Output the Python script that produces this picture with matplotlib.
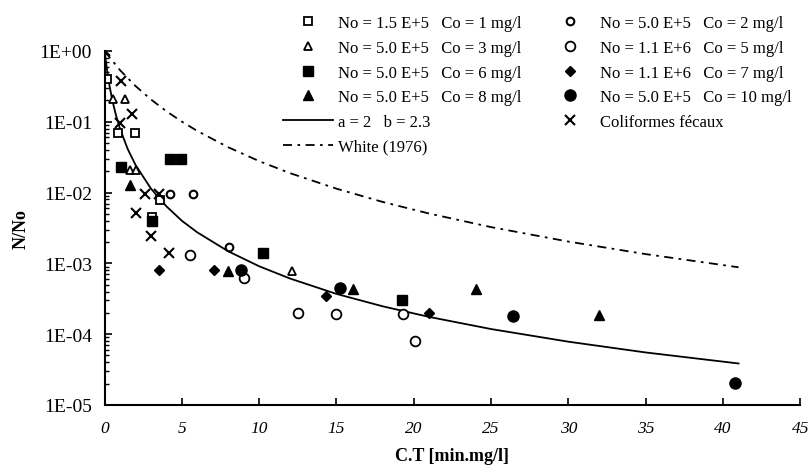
import numpy as np
import matplotlib
matplotlib.use("Agg")
import matplotlib.pyplot as plt
from matplotlib.lines import Line2D

plt.rcParams['font.family'] = ['Liberation Serif', 'DejaVu Serif']

# Donnees (C.T en min.mg/l, N/No)
ct_sq_open = [0.15, 0.9, 2.0, 3.05, 3.6]
nn_sq_open = [0.4, 0.07, 0.07, 0.0045, 0.0078]

ct_tri_open = [0.55, 1.3, 1.65, 2.05, 12.1]
nn_tri_open = [0.21, 0.21, 0.021, 0.021, 0.00078]

ct_sq_fill = [1.05, 3.05, 4.25, 4.95, 10.25, 19.25]
nn_sq_fill = [0.023, 0.004, 0.03, 0.03, 0.0014, 0.0003]

ct_tri_fill = [1.65, 8.0, 16.1, 24.0, 32.0]
nn_tri_fill = [0.013, 0.00078, 0.00044, 0.00044, 0.000185]

ct_o_small = [4.25, 5.75, 8.05]
nn_o_small = [0.0097, 0.0097, 0.0017]

ct_o_big = [5.55, 9.05, 12.5, 15.0, 19.3, 20.05]
nn_o_big = [0.0013, 0.00062, 0.0002, 0.00019, 0.00019, 0.00008]

ct_diam = [3.55, 7.1, 14.3, 21.0]
nn_diam = [0.0008, 0.0008, 0.00035, 0.0002]

ct_circ = [8.85, 15.25, 26.4, 40.8]
nn_circ = [0.0008, 0.00045, 0.000178, 0.0000205]

ct_x = [0.0, 1.05, 1.0, 1.8, 2.65, 3.55, 2.05, 3.0, 4.2]
nn_x = [1.0, 0.38, 0.096, 0.13, 0.0097, 0.0097, 0.0052, 0.0024, 0.0014]

# courbe a = 2, b = 2.3
ct_mod = [0, 0.25, 0.5, 0.75, 1, 1.5, 2, 3, 4, 5, 6, 8, 10, 12, 15, 18, 21, 25, 30, 35, 41]
nn_mod = [1.0, 0.394, 0.203, 0.122, 0.080, 0.0412, 0.0247, 0.0114, 0.0064, 0.0040,
          0.00274, 0.00148, 0.00091, 0.00061, 0.00037, 0.000247, 0.000175, 0.000118,
          0.0000782, 0.0000551, 0.0000385]

# White (1976)
ct_white = [0, 1, 2, 3, 4, 5, 6, 8, 10, 12, 15, 18, 21, 25, 30, 35, 41]
nn_white = [1.0, 0.537, 0.321, 0.207, 0.141, 0.1006, 0.0742, 0.0437, 0.0278, 0.0188,
            0.01135, 0.00736, 0.00505, 0.00325, 0.00203, 0.00135, 0.00088]

ytick_vals = [1e0, 1e-1, 1e-2, 1e-3, 1e-4, 1e-5]
ytick_labels = ['1E+00', '1E-01', '1E-02', '1E-03', '1E-04', '1E-05']
xtick_vals = [0, 5, 10, 15, 20, 25, 30, 35, 40, 45]

labels = ['No = 1.5 E+5   Co = 1 mg/l', 'No = 5.0 E+5   Co = 3 mg/l',
          'No = 5.0 E+5   Co = 6 mg/l', 'No = 5.0 E+5   Co = 8 mg/l',
          'a = 2   b = 2.3', 'White (1976)',
          'No = 5.0 E+5   Co = 2 mg/l', 'No = 1.1 E+6   Co = 5 mg/l',
          'No = 1.1 E+6   Co = 7 mg/l', 'No = 5.0 E+5   Co = 10 mg/l',
          'Coliformes fécaux']

fig = plt.figure(figsize=(8.12, 4.77), dpi=100)
ax = fig.add_axes([0.1287, 0.149, 0.857, 0.742])

k = 'black'
ax.plot(ct_mod, nn_mod, '-', color=k, lw=1.3)
ax.plot(ct_white, nn_white, color=k, lw=1.3, dashes=[5, 3, 1.5, 3])

mk = dict(ls='none', color=k)
ax.plot(ct_sq_open, nn_sq_open, marker='s', ms=6, mfc='white', mew=1.3, **mk)
ax.plot(ct_tri_open, nn_tri_open, marker='^', ms=6, mfc='white', mew=1.3, **mk)
ax.plot(ct_sq_fill, nn_sq_fill, marker='s', ms=7, mfc=k, **mk)
ax.plot(ct_tri_fill, nn_tri_fill, marker='^', ms=7, mfc=k, **mk)
ax.plot(ct_o_small, nn_o_small, marker='o', ms=5.5, mfc='white', mew=1.5, **mk)
ax.plot(ct_o_big, nn_o_big, marker='o', ms=7, mfc='white', mew=1.3, **mk)
ax.plot(ct_diam, nn_diam, marker='D', ms=5.5, mfc=k, **mk)
ax.plot(ct_circ, nn_circ, marker='o', ms=8, mfc=k, **mk)
ax.plot(ct_x, nn_x, marker='x', ms=7, mew=1.5, **mk)

ax.set_yscale('log')
ax.set_xlim(0, 45)
ax.set_ylim(1e-5, 1)
ax.set_yticks(ytick_vals)
ax.set_yticklabels(ytick_labels)
ax.set_xticks(xtick_vals)
ax.set_xticklabels([str(v) for v in xtick_vals], style='italic')
ax.tick_params(axis='both', which='both', direction='in')
ax.tick_params(axis='x', labelsize=12.5, pad=11)
ax.tick_params(axis='y', labelsize=14, pad=9)
ax.tick_params(axis='both', which='major', length=5, width=1.2)
ax.tick_params(axis='y', which='minor', length=3, width=1)
for s in ['top', 'right']:
    ax.spines[s].set_visible(False)
for s in ['left', 'bottom']:
    ax.spines[s].set_linewidth(1.5)

ax.set_xlabel('C.T [min.mg/l]', fontsize=13, fontweight='bold', labelpad=8)
ax.set_ylabel('N/No', fontsize=13, fontweight='bold', labelpad=7)

handles = [
    Line2D([], [], ls='none', marker='s', ms=6, mfc='white', mec=k, mew=1.3),
    Line2D([], [], ls='none', marker='^', ms=6, mfc='white', mec=k, mew=1.3),
    Line2D([], [], ls='none', marker='s', ms=7, mfc=k, mec=k),
    Line2D([], [], ls='none', marker='^', ms=7, mfc=k, mec=k),
    Line2D([], [], color=k, lw=1.3),
    Line2D([], [], color=k, lw=1.3, dashes=[5, 3, 1.5, 3]),
    Line2D([], [], ls='none', marker='o', ms=5.5, mfc='white', mec=k, mew=1.5),
    Line2D([], [], ls='none', marker='o', ms=7, mfc='white', mec=k, mew=1.3),
    Line2D([], [], ls='none', marker='D', ms=5.5, mfc=k, mec=k),
    Line2D([], [], ls='none', marker='o', ms=8, mfc=k, mec=k),
    Line2D([], [], ls='none', marker='x', ms=7, mew=1.5, color=k),
]
fig.legend(handles, labels, ncol=2, frameon=False, fontsize=12,
           loc='upper left', bbox_to_anchor=(0.34, 0.98),
           handlelength=3.0, handletextpad=0.3, columnspacing=1.4,
           labelspacing=0.52, borderaxespad=0)

fig.savefig('out.png', dpi=100)
